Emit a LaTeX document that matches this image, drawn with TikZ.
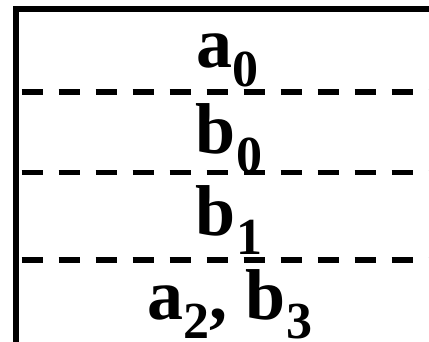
\documentclass[tikz,border=0pt]{standalone}
\usepackage{fontspec}
\setmainfont{Liberation Serif}
\newcommand\subidx[1]{\raisebox{-19pt}{\fontsize{52}{52}\selectfont #1}}
\begin{document}
\begin{tikzpicture}[x=1pt, y=-1pt,
    wall/.style={line width=5.5pt, line join=miter},
    sepline/.style={line width=5.5pt, dash pattern=on 21pt off 16pt},
    lbl/.style={font=\fontsize{72}{72}\selectfont\bfseries, anchor=base, inner sep=0pt}]
        \useasboundingbox (0,0) rectangle (429,341);
        \draw[wall] (16.2,345) -- (16.2,9.2) -- (432,9.2);
        \draw[sepline] (21.7,92) -- (432,92);
        \draw[sepline] (21.7,172.5) -- (432,172.5);
        \draw[sepline] (21.7,260) -- (432,260);
        \node[lbl] (a0) at (227,67) {a\subidx{0}};
        \node[lbl] (b0) at (229,153) {b\subidx{0}};
        \node[lbl] (b1) at (229,235) {b\subidx{1}};
        \node[lbl] (a2b3) at (230,319) {a\subidx{2}, b\subidx{3}};
      \end{tikzpicture}
\end{document}
